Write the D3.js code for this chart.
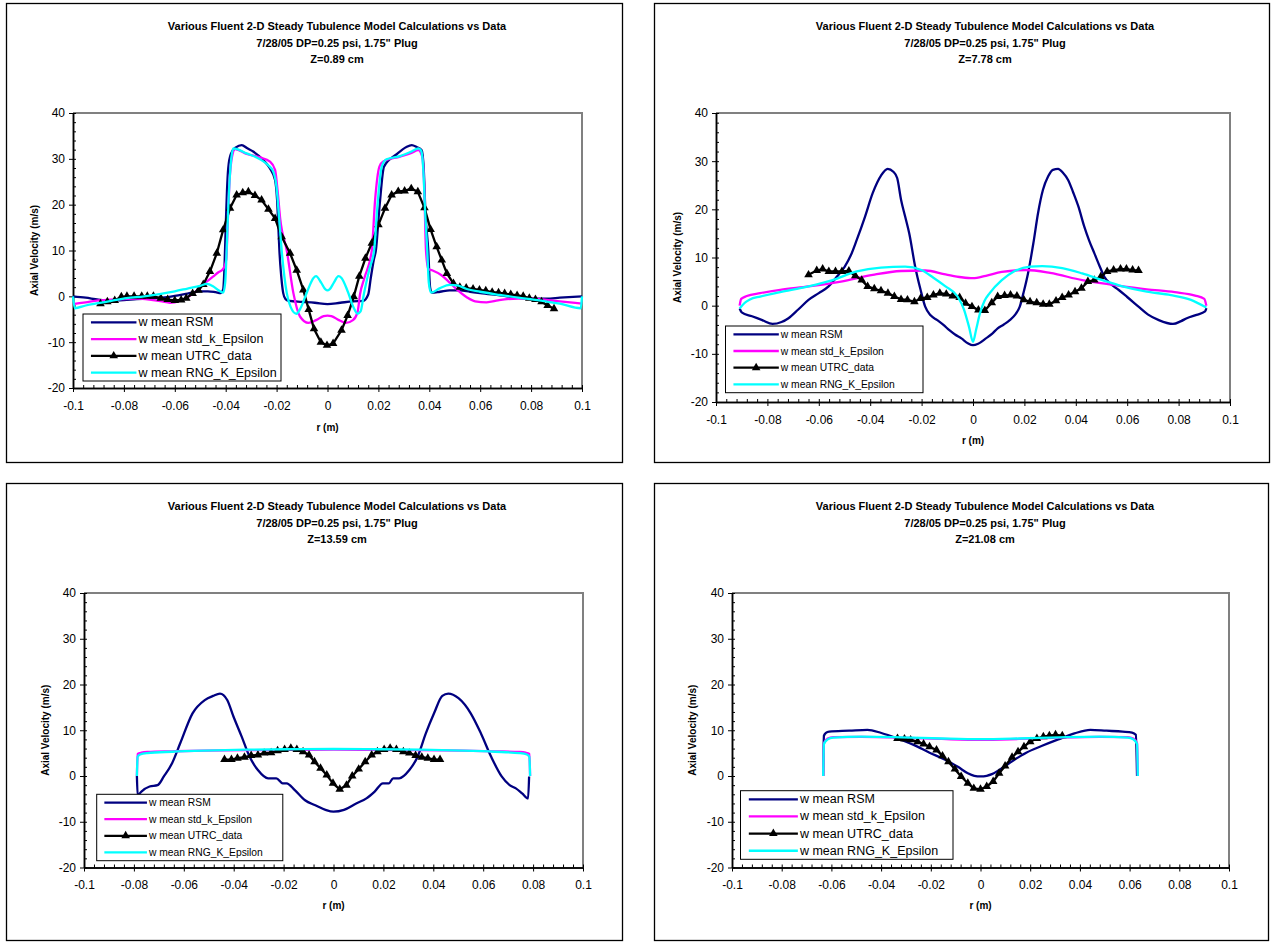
<!DOCTYPE html>
<html lang="en">
<head>
<meta charset="utf-8">
<style>
  body { margin: 0; background: #fff; }
  svg { display: block; font-family: "Liberation Sans", Arial, sans-serif; }
  .tick text { font-size: 12px; fill: #000; }
  .tick line, .domain { stroke: #000; }
</style>
</head>
<body>
<svg width="1271" height="942"></svg>
<script src="https://cdn.jsdelivr.net/npm/d3@7"></script>
<script>
// ---- data ----
var xTicks = [-0.1, -0.08, -0.06, -0.04, -0.02, 0, 0.02, 0.04, 0.06, 0.08, 0.1]
var yTicks = [-20, -10, 0, 10, 20, 30, 40]
var seriesNames = ['w mean RSM', 'w mean std_k_Epsilon', 'w mean UTRC_data', 'w mean RNG_K_Epsilon']
var seriesColors = ['#000080', '#ff00ff', '#000000', '#00ffff']
var titleLines = ['Various Fluent 2-D Steady Tubulence Model Calculations vs Data', '7/28/05 DP=0.25 psi, 1.75" Plug']
var zLabels = ['Z=0.89 cm', 'Z=7.78 cm', 'Z=13.59 cm', 'Z=21.08 cm']

// Z = 0.89 cm
var p1Rsm = [[-0.1,0],[-0.095,-0.3],[-0.09,-0.7],[-0.085,-0.9],[-0.08,-0.8],[-0.075,-0.6],[-0.07,-0.5],[-0.065,-0.3],[-0.06,0.1],[-0.055,0.6],[-0.05,1.1],[-0.047,1.1],[-0.044,0.9],[-0.042,0.7],[-0.041,1.5],[-0.0405,6],[-0.04,15],[-0.0395,23],[-0.039,28],[-0.038,31],[-0.036,32.5],[-0.0337,33],[-0.0315,32.3],[-0.0292,31.6],[-0.0252,29.7],[-0.0226,27.9],[-0.0206,25.4],[-0.0198,21],[-0.0193,15],[-0.0189,10],[-0.0182,4.5],[-0.0174,0.7],[-0.0165,-0.6],[-0.015,-1],[-0.01,-1.2],[-0.005,-1.4],[0,-1.7],[0.005,-1.4],[0.01,-1.1],[0.014,-1],[0.016,0.4],[0.017,4],[0.0182,8],[0.019,10],[0.0205,20],[0.0222,28.3],[0.0272,31],[0.031,32.6],[0.0331,33],[0.035,32.6],[0.037,31.9],[0.0378,28],[0.0385,18],[0.0396,10],[0.0403,2],[0.041,0.8],[0.0442,1],[0.048,1.3],[0.052,1.3],[0.056,1.0],[0.06,0.7],[0.0678,0.2],[0.075,-0.3],[0.0809,-0.5],[0.086,-0.5],[0.0913,-0.3],[0.1,0]]
var p1Std = [[-0.1,-1.7],[-0.095,-1.3],[-0.09,-0.9],[-0.085,-0.7],[-0.08,-0.6],[-0.075,-0.5],[-0.07,-0.7],[-0.065,-1.1],[-0.062,-1.4],[-0.058,-1.0],[-0.055,-0.2],[-0.052,0.9],[-0.049,2.6],[-0.0475,3.2],[-0.045,4.3],[-0.043,5.2],[-0.041,6.0],[-0.0398,8],[-0.0392,16],[-0.0385,25],[-0.0375,30.5],[-0.0363,32.1],[-0.0318,31.05],[-0.0265,30.3],[-0.0226,29.4],[-0.0206,27.6],[-0.0196,23],[-0.0186,17],[-0.016,10],[-0.0134,0.7],[-0.0108,-4.4],[-0.0075,-5.8],[-0.0045,-5.2],[-0.0015,-4.3],[0,-4.2],[0.0015,-4.3],[0.0045,-5.2],[0.0072,-5.8],[0.01,-5.2],[0.0118,-3.5],[0.0128,0.5],[0.0145,4],[0.0174,10],[0.0187,21],[0.0204,28.3],[0.0219,29.4],[0.0285,30.5],[0.033,31.3],[0.0357,31.9],[0.0372,30.5],[0.038,24],[0.0387,10],[0.0396,6],[0.041,5.7],[0.0448,4.6],[0.048,3],[0.0508,1.5],[0.0547,-0.2],[0.058,-1.1],[0.0625,-1.3],[0.067,-0.9],[0.0705,-0.6],[0.075,-0.5],[0.0809,-0.5],[0.086,-0.8],[0.0913,-1.1],[0.1,-1.6]]
var p1Rng = [[-0.1,0],[-0.0993,-2.6],[-0.095,-2.0],[-0.09,-1.5],[-0.085,-1.0],[-0.079,-0.4],[-0.072,0],[-0.066,0.5],[-0.06,1.1],[-0.055,1.7],[-0.05,2.3],[-0.0475,2.7],[-0.045,2.2],[-0.0425,1.2],[-0.041,0.8],[-0.0402,3],[-0.0395,12],[-0.0388,22],[-0.038,29],[-0.037,32.3],[-0.0318,31.2],[-0.0265,29.9],[-0.0233,28.6],[-0.0213,27.2],[-0.02,23.7],[-0.019,17],[-0.018,10],[-0.016,0.7],[-0.0145,-2.3],[-0.0122,-3.8],[-0.0105,-2.5],[-0.008,1],[-0.0055,4],[-0.0045,4.4],[-0.0025,3],[-0.0008,1.5],[0,1.3],[0.0008,1.5],[0.0025,3],[0.0043,4.4],[0.0055,4],[0.008,1],[0.0103,-2.5],[0.0118,-3.8],[0.013,-3.3],[0.0143,0.5],[0.0165,6],[0.0183,10],[0.0198,21],[0.0213,28.3],[0.0232,29.9],[0.0285,30.6],[0.033,31.6],[0.0357,32.3],[0.0368,31.8],[0.0376,28],[0.0384,18],[0.0392,10],[0.0398,3],[0.0407,0.8],[0.0442,1.8],[0.048,2.5],[0.051,2.4],[0.0547,1.6],[0.06,1.0],[0.0678,0.3],[0.075,-0.3],[0.0809,-0.7],[0.0913,-1.6],[0.0995,-2.6],[0.1,0]]
var p1Utrc = [[-0.0892,-1.6],[-0.0865,-1.2],[-0.0836,-0.9],[-0.081,-0.1],[-0.0788,0],[-0.076,0],[-0.073,0],[-0.0708,0],[-0.0684,0],[-0.0655,-0.4],[-0.0628,-0.7],[-0.06,-0.9],[-0.0575,-0.8],[-0.0555,-0.4],[-0.053,0.6],[-0.0507,1.3],[-0.0488,2.6],[-0.0462,5.4],[-0.0435,9.4],[-0.041,14.5],[-0.0383,19.2],[-0.0357,22.1],[-0.0333,22.6],[-0.0311,22.8],[-0.0285,22.0],[-0.0259,21.0],[-0.0232,19.0],[-0.0206,17.0],[-0.018,13.0],[-0.0147,9.4],[-0.0121,5.7],[-0.0095,1.4],[-0.0074,-2.9],[-0.0053,-7.1],[-0.0026,-10.0],[-0.0002,-10.7],[0.0022,-10.3],[0.0055,-7.4],[0.0079,-4.2],[0.0103,-0.1],[0.0125,4.4],[0.0149,8.3],[0.0174,11.6],[0.02,15.6],[0.0226,19.2],[0.0252,22.1],[0.0278,22.9],[0.0303,23.0],[0.0329,23.5],[0.0355,22.8],[0.0381,19.3],[0.0405,14.6],[0.0429,10.8],[0.0449,7.9],[0.0469,5.0],[0.0495,2.8],[0.052,2.0],[0.0545,1.8],[0.0572,1.6],[0.0597,1.4],[0.0622,1.2],[0.0647,0.9],[0.0672,0.8],[0.0696,0.6],[0.072,0.4],[0.0745,0.2],[0.0769,0],[0.0793,-0.4],[0.0817,-0.7],[0.0841,-1.2],[0.0865,-2.0],[0.089,-2.7]]

// Z = 7.78 cm
var p2Rsm = [[-0.0908,-0.6],[-0.09,-1.4],[-0.086,-2.2],[-0.082,-3.0],[-0.078,-3.8],[-0.0745,-3.4],[-0.0718,-2.6],[-0.068,-0.8],[-0.064,1.2],[-0.06,2.6],[-0.0562,4.0],[-0.053,6],[-0.0499,8.1],[-0.0475,10.5],[-0.0452,13.7],[-0.042,18.5],[-0.039,23.4],[-0.0358,27],[-0.0332,28.4],[-0.031,27.8],[-0.0295,26.5],[-0.028,22],[-0.0264,18.5],[-0.0248,15],[-0.0225,8.1],[-0.0205,3.5],[-0.0186,-0.2],[-0.0165,-2.0],[-0.0139,-3.0],[-0.0115,-4.0],[-0.0092,-5.1],[-0.007,-6],[-0.0045,-6.8],[-0.002,-7.8],[0,-8.2],[0.002,-7.9],[0.005,-6.8],[0.0075,-5.8],[0.0096,-4.7],[0.012,-3.9],[0.0143,-3.0],[0.0165,-1.8],[0.0182,-0.2],[0.0198,3],[0.0214,6.7],[0.0235,13],[0.0253,19.2],[0.0272,24],[0.0292,26.8],[0.0311,28.2],[0.0331,28.4],[0.035,27.6],[0.037,26.1],[0.039,23.5],[0.041,20.6],[0.0433,16.4],[0.0452,13.5],[0.0472,10.9],[0.0492,8.3],[0.0511,6.0],[0.0538,4.4],[0.0566,3.3],[0.06,1.8],[0.0644,-0.2],[0.068,-1.8],[0.0723,-3.0],[0.0778,-3.8],[0.081,-3.2],[0.0832,-2.6],[0.087,-1.9],[0.0903,-1.2],[0.0908,-0.5]]
var p2Std = [[-0.0908,0],[-0.0902,1.4],[-0.088,2.0],[-0.0828,2.6],[-0.075,3.3],[-0.064,4.0],[-0.0514,5.0],[-0.039,6.4],[-0.028,7.2],[-0.0186,7.3],[-0.0107,6.5],[-0.0045,5.9],[0,5.7],[0.005,6.2],[0.0112,7.0],[0.0206,7.4],[0.03,6.8],[0.0425,5.3],[0.055,4.3],[0.0676,3.4],[0.0785,2.8],[0.0864,2.1],[0.09,1.4],[0.0908,0]]
var p2Rng = [[-0.0908,-0.6],[-0.089,0.5],[-0.0868,1.3],[-0.0828,1.9],[-0.075,2.8],[-0.064,4.0],[-0.0546,5.3],[-0.0452,7.1],[-0.0358,7.9],[-0.0264,8.1],[-0.0201,7.4],[-0.0154,5.8],[-0.0107,4.0],[-0.006,1.9],[-0.0035,-0.8],[-0.0015,-4.5],[0,-7.5],[0.0012,-5.0],[0.0027,-1.6],[0.0045,1.0],[0.0065,2.6],[0.0112,5.3],[0.0159,7.1],[0.0222,8.1],[0.0269,8.2],[0.0347,7.8],[0.0425,6.7],[0.0504,5.3],[0.0582,4.0],[0.0676,2.9],[0.077,2.2],[0.0848,1.2],[0.0908,-0.4]]
var p2Utrc = [[-0.064,6.4],[-0.0608,7.3],[-0.0585,7.6],[-0.0561,7.1],[-0.0535,7.1],[-0.051,7.1],[-0.0483,7.2],[-0.0458,6.2],[-0.0433,5.3],[-0.041,4.0],[-0.0384,3.5],[-0.0358,3.1],[-0.0331,2.6],[-0.0306,1.9],[-0.028,1.3],[-0.0255,1.2],[-0.0228,0.8],[-0.0204,1.5],[-0.0178,1.7],[-0.0154,2.2],[-0.0129,2.6],[-0.0104,2.4],[-0.0079,2.0],[-0.0052,1.7],[-0.0029,0.5],[-0.0004,-0.2],[0.0021,-0.9],[0.0046,-1.0],[0.0073,0.6],[0.0096,1.9],[0.0123,2.1],[0.0146,2.2],[0.0171,2.0],[0.0198,1.2],[0.0222,0.8],[0.0248,0.6],[0.0273,0.3],[0.0297,0.3],[0.0323,1.0],[0.0347,1.7],[0.0372,2.2],[0.0397,2.9],[0.0422,3.6],[0.0447,5.0],[0.0472,5.3],[0.0497,6.0],[0.0522,7.1],[0.0547,7.4],[0.0574,7.6],[0.0597,7.6],[0.0621,7.4],[0.0644,7.3]]

// Z = 13.59 cm
var p3Rsm = [[-0.0788,0],[-0.0785,-4.2],[-0.077,-3.4],[-0.0737,-2.3],[-0.0705,-2.0],[-0.068,-0.1],[-0.0647,2.8],[-0.0614,7.2],[-0.0565,13.7],[-0.0516,16.6],[-0.0483,17.5],[-0.0455,18.0],[-0.0426,16.6],[-0.0401,13],[-0.0368,8.6],[-0.0336,4.2],[-0.0303,1.3],[-0.0262,-0.5],[-0.0229,-0.5],[-0.0204,-1.6],[-0.0188,-1.6],[-0.0155,-3.1],[-0.0114,-5.3],[-0.0073,-6.4],[-0.0032,-7.4],[0,-7.8],[0.0042,-7.4],[0.0091,-6.0],[0.0132,-4.9],[0.0165,-3.4],[0.0198,-1.6],[0.0222,-1.6],[0.0239,-0.5],[0.0263,-0.5],[0.0304,1.3],[0.0337,4.2],[0.037,9.3],[0.0403,13.7],[0.0436,17.5],[0.046,18.0],[0.0501,17.0],[0.055,13.7],[0.0591,9.3],[0.0632,4.2],[0.0674,-0.1],[0.0706,-2.0],[0.0731,-2.7],[0.0756,-3.8],[0.078,-4.9],[0.0784,-0.1]]
var p3Std = [[-0.0788,0],[-0.0785,4.8],[-0.077,5.1],[-0.0746,5.25],[-0.0647,5.4],[-0.0516,5.55],[-0.0352,5.65],[-0.0188,5.7],[0,5.75],[0.0188,5.7],[0.0352,5.65],[0.0516,5.55],[0.0647,5.4],[0.0746,5.25],[0.077,5.1],[0.0785,4.8],[0.0788,0]]
var p3Rng = [[-0.0788,0],[-0.0785,4.2],[-0.0775,4.7],[-0.0746,5.0],[-0.0647,5.3],[-0.0516,5.55],[-0.0352,5.75],[-0.0188,5.85],[0,5.9],[0.0188,5.85],[0.0352,5.75],[0.0516,5.55],[0.0647,5.3],[0.0746,5.0],[0.0775,4.7],[0.0785,4.2],[0.0788,0]]
var p3Utrc = [[-0.0437,3.6],[-0.0409,3.6],[-0.0385,3.9],[-0.0357,4.1],[-0.033,4.5],[-0.0303,4.6],[-0.0278,5.0],[-0.025,5.1],[-0.0224,5.5],[-0.0196,5.8],[-0.0171,6.1],[-0.0147,5.8],[-0.0122,5.3],[-0.0098,4.6],[-0.0076,3.1],[-0.0052,1.7],[-0.0027,0.2],[-0.0002,-1.6],[0.0025,-2.9],[0.0052,-2.0],[0.0075,0],[0.0101,1.5],[0.0127,3.1],[0.0153,4.6],[0.0176,5.3],[0.0203,5.8],[0.0227,6.1],[0.0252,5.8],[0.028,5.3],[0.0304,5.0],[0.0329,4.5],[0.0354,4.1],[0.0378,3.9],[0.0403,3.6],[0.0427,3.6]]

// Z = 21.08 cm
var p4Rsm = [[-0.0633,0],[-0.063,8.8],[-0.0622,9.4],[-0.0609,9.7],[-0.0528,9.9],[-0.0455,10.1],[-0.0399,9.4],[-0.0334,8.2],[-0.0269,6.8],[-0.0205,5.1],[-0.014,3.5],[-0.0091,2.0],[-0.0051,0.6],[-0.0025,0.05],[0,-0.1],[0.0025,0.05],[0.0046,0.4],[0.0086,1.7],[0.0135,3.5],[0.0184,5.1],[0.0248,6.6],[0.0313,8.0],[0.0378,9.3],[0.0442,10.1],[0.0507,9.9],[0.0572,9.7],[0.061,9.5],[0.0625,9.0],[0.063,0]]
var p4Std = [[-0.0633,0],[-0.063,7.2],[-0.0615,8.2],[-0.0593,8.5],[-0.048,8.55],[-0.0318,8.4],[-0.0156,8.1],[0,7.9],[0.0156,8.1],[0.0318,8.4],[0.048,8.55],[0.0593,8.5],[0.0615,8.2],[0.063,7.2],[0.0633,0]]
var p4Rng = [[-0.0633,0],[-0.063,7.0],[-0.0615,8.0],[-0.0593,8.4],[-0.048,8.6],[-0.0318,8.45],[-0.0156,8.2],[0,8.05],[0.0156,8.2],[0.0318,8.45],[0.048,8.6],[0.0593,8.4],[0.0615,8.0],[0.063,7.0],[0.0633,0]]
var p4Utrc = [[-0.0334,8.2],[-0.0306,8.1],[-0.0281,7.9],[-0.0253,7.5],[-0.0229,7.0],[-0.0205,6.4],[-0.0177,5.7],[-0.0153,4.4],[-0.0129,3.1],[-0.0103,1.5],[-0.0078,-0.1],[-0.0051,-1.6],[-0.0027,-2.7],[0,-2.9],[0.0025,-2.3],[0.0051,-1.2],[0.0075,0.6],[0.0099,2.2],[0.0127,4.1],[0.0151,5.3],[0.0175,6.4],[0.02,7.5],[0.0227,8.2],[0.0253,8.6],[0.0277,8.8],[0.0302,9.0],[0.0329,8.8]]

// ---- layout of each chart on the page ----
var panels = [
  {series: [p1Rsm, p1Std, p1Utrc, p1Rng], z: zLabels[0],
   box: [6, 3, 622, 462], plot: [73, 113, 582, 388], titleX: 337, titleY: 30,
   legend: [83, 314, 281, 381], legendFont: 12.5, yTitleX: 34, xTitleY: 427},
  {series: [p2Rsm, p2Std, p2Utrc, p2Rng], z: zLabels[1],
   box: [654, 3, 1269, 462], plot: [716, 113, 1230, 402], titleX: 985, titleY: 30,
   legend: [725.5, 326, 923, 392.7], legendFont: 10.3, yTitleX: 677, xTitleY: 440},
  {series: [p3Rsm, p3Std, p3Utrc, p3Rng], z: zLabels[2],
   box: [6, 483, 622, 940], plot: [84, 593, 583, 867.5], titleX: 337, titleY: 510,
   legend: [96.7, 794.3, 282.8, 860.7], legendFont: 10.3, yTitleX: 45, xTitleY: 905},
  {series: [p4Rsm, p4Std, p4Utrc, p4Rng], z: zLabels[3],
   box: [654, 483, 1268, 940], plot: [732, 593, 1229, 867.5], titleX: 985, titleY: 510,
   legend: [740.5, 790.7, 953, 859.3], legendFont: 12.5, yTitleX: 692.5, xTitleY: 905}
]

var svg = d3.select('svg')
var fmt = function (d) { return String(+d.toFixed(2)) }
var tri = d3.symbol().type(d3.symbolTriangle).size(32)

function drawPanel (p) {
  var g = svg.append('g')
  var L = p.plot[0], T = p.plot[1], R = p.plot[2], B = p.plot[3]

  g.append('rect')
    .attr('x', p.box[0] + 0.5).attr('y', p.box[1] + 0.5)
    .attr('width', p.box[2] - p.box[0]).attr('height', p.box[3] - p.box[1])
    .attr('fill', '#fff').attr('stroke', '#000').attr('stroke-width', 1.3)

  var x = d3.scaleLinear().domain([-0.1, 0.1]).range([L, R])
  var y = d3.scaleLinear().domain([-20, 40]).range([B, T])

  // title
  var lines = titleLines.concat([p.z])
  g.selectAll('text.title').data(lines).enter().append('text')
    .attr('class', 'title')
    .attr('x', p.titleX).attr('y', function (d, i) { return p.titleY + i * 16.6 })
    .attr('text-anchor', 'middle').attr('font-size', 11).attr('font-weight', 'bold')
    .text(function (d) { return d })

  // gray frame on top and right
  g.append('path')
    .attr('d', 'M' + L + ',' + T + 'H' + R + 'V' + B)
    .attr('fill', 'none').attr('stroke', '#808080').attr('stroke-width', 2)

  // minor ticks (inside)
  g.append('g').attr('transform', 'translate(0,' + B + ')')
    .call(d3.axisBottom(x).tickValues(d3.range(-0.1, 0.1001, 0.004)).tickSize(-3).tickSizeOuter(0).tickFormat(''))
  g.append('g').attr('transform', 'translate(' + L + ',0)')
    .call(d3.axisLeft(y).tickValues(d3.range(-20, 40.01, 2)).tickSize(-3).tickSizeOuter(0).tickFormat(''))

  // major ticks + labels
  g.append('g').attr('transform', 'translate(0,' + B + ')')
    .call(d3.axisBottom(x).tickValues(xTicks).tickSize(4).tickSizeOuter(0).tickPadding(9).tickFormat(fmt))
  g.append('g').attr('transform', 'translate(' + L + ',0)')
    .call(d3.axisLeft(y).tickValues(yTicks).tickSize(4).tickSizeOuter(0).tickPadding(4).tickFormat(fmt))
  g.selectAll('.domain').attr('stroke-width', 1.5)

  // axis titles
  g.append('text')
    .attr('transform', 'translate(' + p.yTitleX + ',' + (T + B) / 2 + ') rotate(-90)')
    .attr('text-anchor', 'middle').attr('dominant-baseline', 'central')
    .attr('font-size', 10).attr('font-weight', 'bold')
    .text('Axial Velocity (m/s)')
  g.append('text')
    .attr('x', (L + R) / 2).attr('y', p.xTitleY)
    .attr('text-anchor', 'middle').attr('dominant-baseline', 'central')
    .attr('font-size', 10).attr('font-weight', 'bold')
    .text('r (m)')

  // series
  var smooth = d3.line().x(function (d) { return x(d[0]) }).y(function (d) { return y(d[1]) }).curve(d3.curveMonotoneX)
  var straight = d3.line().x(function (d) { return x(d[0]) }).y(function (d) { return y(d[1]) })

  p.series.forEach(function (s, i) {
    g.append('path')
      .attr('d', i === 2 ? straight(s) : smooth(s))
      .attr('fill', 'none').attr('stroke', seriesColors[i])
      .attr('stroke-width', 2.3).attr('stroke-linejoin', 'round')
    if (i === 2) {
      g.selectAll('path.mark').data(s).enter().append('path')
        .attr('class', 'mark')
        .attr('d', tri)
        .attr('transform', function (d) { return 'translate(' + x(d[0]) + ',' + y(d[1]) + ')' })
        .attr('fill', '#000')
    }
  })

  // legend
  var lg = p.legend
  g.append('rect')
    .attr('x', lg[0]).attr('y', lg[1])
    .attr('width', lg[2] - lg[0]).attr('height', lg[3] - lg[1])
    .attr('fill', '#fff').attr('stroke', '#000').attr('stroke-width', 1)
  var h = (lg[3] - lg[1]) / 4
  var lx0 = lg[0] + (lg[2] - lg[0]) * 0.025
  var lx1 = lg[0] + (lg[2] - lg[0]) * 0.27
  seriesNames.forEach(function (name, i) {
    var ry = lg[1] + h * (i + 0.5)
    g.append('line')
      .attr('x1', lx0 + 3).attr('x2', lx1).attr('y1', ry).attr('y2', ry)
      .attr('stroke', seriesColors[i]).attr('stroke-width', 2.3)
    if (i === 2) {
      g.append('path').attr('d', tri)
        .attr('transform', 'translate(' + (lx0 + lx1 + 3) / 2 + ',' + ry + ')')
        .attr('fill', '#000')
    }
    g.append('text')
      .attr('x', lx1 + 2).attr('y', ry)
      .attr('dominant-baseline', 'central')
      .attr('font-size', p.legendFont)
      .text(name)
  })
}

panels.forEach(drawPanel)
</script>
</body>
</html>
